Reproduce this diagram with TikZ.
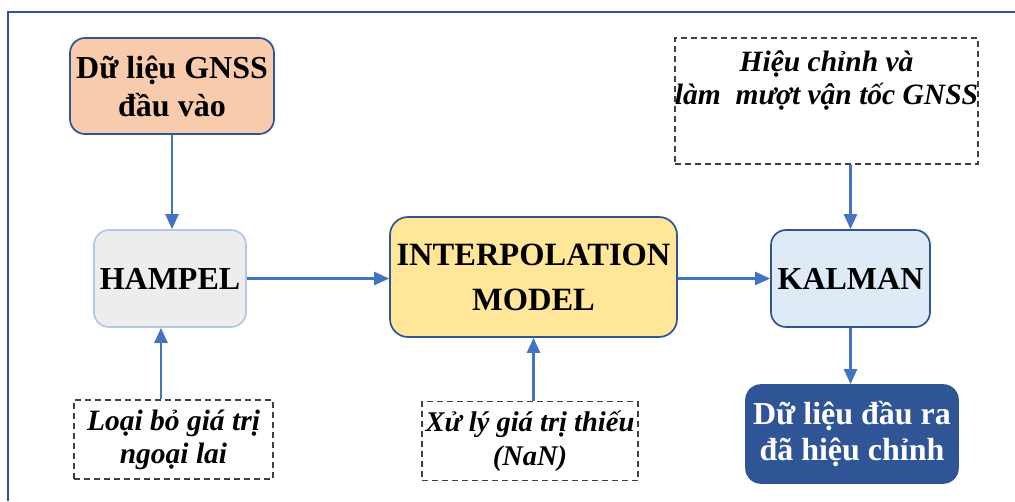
\documentclass[tikz,border=0pt]{standalone}
\usepackage{fontspec}
\setmainfont{Liberation Serif}
\usetikzlibrary{arrows.meta}
\definecolor{dblue}{HTML}{2F5597}
\definecolor{ablue}{HTML}{4472C4}
\definecolor{peach}{HTML}{F8CBAD}
\definecolor{lgray}{HTML}{EDEDED}
\definecolor{lbord}{HTML}{B4C7E7}
\definecolor{lyel}{HTML}{FFE699}
\definecolor{lsky}{HTML}{DEEBF7}
\definecolor{dgray}{HTML}{404040}
\tikzset{
  box/.style={draw=dblue, line width=1.7pt, rounded corners=15pt, align=center, inner sep=0pt,
    font=\fontsize{32}{38}\selectfont\bfseries},
  dbox/.style={draw=dgray, line width=1.2pt, dash pattern=on 6pt off 4pt, inner sep=0pt, align=center,
    font=\fontsize{29.5}{33}\selectfont\bfseries\itshape},
  arr/.style={draw=ablue, line width=2.4pt, -{Triangle[width=13pt,length=15pt]}},
}
\begin{document}
\begin{tikzpicture}[x=1pt,y=-1pt]
\useasboundingbox (0,0) rectangle (1015,501);
\fill[white] (0,0) rectangle (1015,501);
\draw[dblue, line width=2pt] (8,501) -- (8,12) -- (1015,12);

\node[box, fill=peach, minimum width=204pt, minimum height=96pt] (inp) at (172,86) {Dữ liệu GNSS\\đầu vào};
\node[box, fill=lgray, draw=lbord, minimum width=152pt, minimum height=97pt] (ham) at (170,278.5) {HAMPEL};
\node[box, fill=lyel, minimum width=287pt, minimum height=120pt, rounded corners=18pt,
  font=\fontsize{32.5}{45}\selectfont\bfseries] (interp) at (533.5,277) {INTERPOLATION\\MODEL};
\node[box, fill=lsky, minimum width=159pt, minimum height=97pt] (kal) at (850.5,278.5) {KALMAN};
\node[box, fill=dblue, draw=dblue, text=white, minimum width=212pt, minimum height=98pt,
  font=\fontsize{32}{36}\selectfont\bfseries] (out) at (852,434) {Dữ liệu đầu ra\\đã hiệu chỉnh};

\node[dbox, minimum width=303pt, minimum height=126pt] (hc) at (826.5,101) {};
\node[dbox, draw=none] (hct) at (826.5,80) {Hiệu chỉnh và\\làm\ \ mượt vận tốc GNSS};
\node[dbox, minimum width=199pt, minimum height=79pt] (lb) at (173.5,439.5) {Loại bỏ giá trị\\ngoại lai};
\node[dbox, minimum width=216pt, minimum height=79pt, font=\fontsize{28.5}{34}\selectfont\bfseries\itshape] (xl) at (530,441) {Xử lý giá trị thiếu\\(NaN)};

\draw[arr] (inp.south) -- (inp.south |- ham.north);
\draw[arr] ([xshift=-12.5pt]lb.north) -- ([xshift=-12.5pt]lb.north |- ham.south);
\draw[arr] (ham.east) -- (ham.east -| interp.west);
\draw[arr] ([xshift=3.5pt]xl.north) -- ([xshift=3.5pt]xl.north |- interp.south);
\draw[arr] (interp.east |- kal.west) -- (kal.west);
\draw[arr] (kal.north |- hc.south) -- (kal.north);
\draw[arr] (kal.south) -- (kal.south |- out.north);
\end{tikzpicture}
\end{document}
